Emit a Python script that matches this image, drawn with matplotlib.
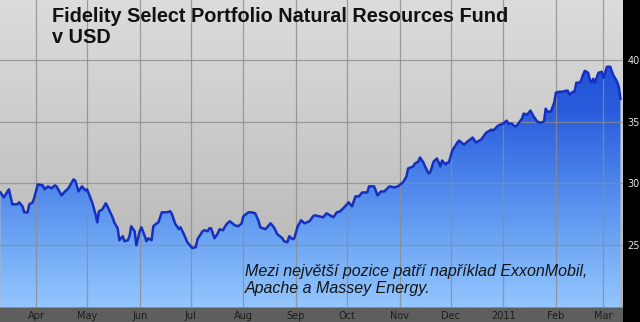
import numpy as np
import pandas as pd
import matplotlib
matplotlib.use("Agg")
import matplotlib.pyplot as plt
import matplotlib.dates as mdates
from matplotlib.colors import LinearSegmentedColormap
from matplotlib.patches import Rectangle

# price of the fund
DATES = [
    "2010-03-11", "2010-03-13", "2010-03-16", "2010-03-18", "2010-03-21", "2010-03-22",
    "2010-03-24", "2010-03-25", "2010-03-27", "2010-03-28", "2010-03-30", "2010-03-31",
    "2010-04-02", "2010-04-05", "2010-04-06", "2010-04-08", "2010-04-10", "2010-04-12",
    "2010-04-13", "2010-04-16", "2010-04-18", "2010-04-20", "2010-04-23", "2010-04-24",
    "2010-04-26", "2010-04-28", "2010-04-30", "2010-05-01", "2010-05-04", "2010-05-06",
    "2010-05-07", "2010-05-08", "2010-05-10", "2010-05-12", "2010-05-13", "2010-05-16",
    "2010-05-17", "2010-05-19", "2010-05-20", "2010-05-22", "2010-05-23", "2010-05-25",
    "2010-05-26", "2010-05-27", "2010-05-29", "2010-05-30", "2010-06-01", "2010-06-02",
    "2010-06-04", "2010-06-05", "2010-06-06", "2010-06-08", "2010-06-09", "2010-06-11",
    "2010-06-12", "2010-06-14", "2010-06-17", "2010-06-19", "2010-06-20", "2010-06-22",
    "2010-06-23", "2010-06-24", "2010-06-25", "2010-06-27", "2010-06-29", "2010-07-01",
    "2010-07-02", "2010-07-04", "2010-07-05", "2010-07-08", "2010-07-09", "2010-07-11",
    "2010-07-12", "2010-07-13", "2010-07-15", "2010-07-17", "2010-07-18", "2010-07-20",
    "2010-07-22", "2010-07-24", "2010-07-27", "2010-07-29", "2010-07-31", "2010-08-01",
    "2010-08-04", "2010-08-06", "2010-08-08", "2010-08-10", "2010-08-11", "2010-08-14",
    "2010-08-15", "2010-08-17", "2010-08-19", "2010-08-21", "2010-08-24", "2010-08-25",
    "2010-08-27", "2010-08-28", "2010-08-30", "2010-08-31", "2010-09-02", "2010-09-04",
    "2010-09-06", "2010-09-09", "2010-09-11", "2010-09-12", "2010-09-17", "2010-09-19",
    "2010-09-23", "2010-09-25", "2010-09-27", "2010-09-30", "2010-10-02", "2010-10-04",
    "2010-10-06", "2010-10-08", "2010-10-10", "2010-10-13", "2010-10-14", "2010-10-17",
    "2010-10-19", "2010-10-21", "2010-10-23", "2010-10-26", "2010-10-29", "2010-10-31",
    "2010-11-03", "2010-11-05", "2010-11-06", "2010-11-09", "2010-11-10", "2010-11-12",
    "2010-11-13", "2010-11-15", "2010-11-16", "2010-11-18", "2010-11-19", "2010-11-21",
    "2010-11-23", "2010-11-25", "2010-11-26", "2010-11-28", "2010-11-29", "2010-11-30",
    "2010-12-02", "2010-12-05", "2010-12-06", "2010-12-08", "2010-12-09", "2010-12-11",
    "2010-12-14", "2010-12-16", "2010-12-19", "2010-12-22", "2010-12-25", "2010-12-26",
    "2010-12-29", "2011-01-01", "2011-01-03", "2011-01-04", "2011-01-06", "2011-01-08",
    "2011-01-09", "2011-01-12", "2011-01-13", "2011-01-15", "2011-01-17", "2011-01-19",
    "2011-01-21", "2011-01-23", "2011-01-25", "2011-01-26", "2011-01-27", "2011-01-29",
    "2011-01-31", "2011-02-01", "2011-02-03", "2011-02-05", "2011-02-07", "2011-02-08",
    "2011-02-09", "2011-02-11", "2011-02-12", "2011-02-13", "2011-02-15", "2011-02-16",
    "2011-02-17", "2011-02-18", "2011-02-20", "2011-02-21", "2011-02-22", "2011-02-23",
    "2011-02-24", "2011-02-25", "2011-02-26", "2011-02-28", "2011-03-01", "2011-03-02",
    "2011-03-03", "2011-03-05", "2011-03-06", "2011-03-07", "2011-03-09", "2011-03-10",
    "2011-03-11",
]
PRICES = [
    29.27, 28.87, 29.52, 28.31, 28.31, 28.47,
    28.15, 27.66, 27.66, 28.31, 28.47, 28.87,
    29.92, 29.84, 29.52, 29.76, 29.60, 29.84,
    29.76, 29.03, 29.35, 29.60, 30.32, 30.24,
    29.35, 29.76, 29.43, 29.52, 28.47, 27.50,
    26.85, 27.74, 27.90, 28.39, 28.15, 27.26,
    26.85, 26.37, 25.40, 25.73, 25.32, 25.40,
    25.73, 26.53, 26.13, 25.00, 26.13, 26.45,
    25.73, 25.32, 25.56, 25.40, 26.53, 26.77,
    26.85, 27.66, 27.66, 27.74, 27.50, 26.69,
    26.53, 26.29, 26.45, 25.89, 25.24, 24.92,
    24.76, 24.84, 25.48, 26.13, 26.21, 26.13,
    26.37, 26.37, 25.56, 25.97, 26.29, 26.21,
    26.69, 26.94, 26.61, 26.53, 26.77, 27.34,
    27.66, 27.66, 27.58, 26.94, 26.45, 26.29,
    26.45, 26.77, 26.45, 25.89, 25.56, 25.32,
    25.24, 25.73, 25.48, 25.56, 26.53, 27.02,
    26.77, 26.94, 27.34, 27.42, 27.26, 27.58,
    27.26, 27.66, 27.74, 28.15, 28.47, 28.15,
    28.95, 28.95, 29.27, 29.27, 29.76, 29.76,
    29.03, 29.35, 29.35, 29.76, 29.68, 29.76,
    30.08, 30.56, 31.21, 31.37, 31.61, 31.77,
    32.10, 31.69, 31.37, 30.81, 30.89, 31.77,
    32.02, 31.37, 31.85, 31.53, 31.69, 31.69,
    32.66, 33.31, 33.47, 33.23, 33.15, 33.39,
    33.71, 33.31, 33.55, 34.11, 34.35, 34.27,
    34.68, 34.84, 35.08, 34.84, 34.84, 34.60,
    34.68, 35.24, 35.65, 35.56, 35.89, 35.40,
    35.00, 34.92, 35.00, 36.05, 35.81, 35.81,
    36.53, 37.34, 37.42, 37.42, 37.50, 37.50,
    37.18, 37.42, 37.42, 38.15, 38.15, 38.39,
    38.79, 39.11, 38.95, 38.39, 38.15, 38.47,
    38.15, 38.55, 38.95, 39.03, 38.55, 38.95,
    39.44, 39.44, 39.03, 38.71, 38.23, 37.82,
    36.85,
]

MONTH_TICKS = ["2010-04-01", "2010-05-01", "2010-06-01", "2010-07-01", "2010-08-01",
               "2010-09-01", "2010-10-01", "2010-11-01", "2010-12-01", "2011-01-01",
               "2011-02-01", "2011-03-01"]
MONTH_LABELS = ["Apr", "May", "Jun", "Jul", "Aug", "Sep", "Oct", "Nov", "Dec",
                "2011", "Feb", "Mar"]
PRICE_TICKS = [25, 30, 35, 40]

TITLE = "Fidelity Select Portfolio Natural Resources Fund\nv USD"
NOTE = "Mezi největší pozice patří například ExxonMobil,\nApache a Massey Energy."


def main():
    dates = mdates.date2num(pd.to_datetime(DATES))
    prices = np.array(PRICES)
    ticks = mdates.date2num(pd.to_datetime(MONTH_TICKS))

    W, H = 640, 322
    fig = plt.figure(figsize=(W / 100, H / 100), dpi=100, facecolor="black")

    # grey strip under the plot for the month labels (behind the axes)
    fig.patches.append(Rectangle((0, 0), 623 / W, 15 / H, transform=fig.transFigure,
                                 facecolor="#5e5e5e", edgecolor="none", zorder=-2))
    fig.patches.append(Rectangle((0, 14 / H), 623 / W, 1.5 / H, transform=fig.transFigure,
                                 facecolor="#8a8a8a", edgecolor="none", zorder=-1))

    ax = fig.add_axes([0, 15 / H, 623 / W, 307 / H])
    x0 = mdates.date2num(pd.Timestamp("2010-03-10 18:00"))
    x1 = mdates.date2num(pd.Timestamp("2011-03-12 12:00"))
    y0, y1 = 20.0, 44.84
    ax.set_xlim(x0, x1)
    ax.set_ylim(y0, y1)

    # grey background gradient
    grey = LinearSegmentedColormap.from_list("grey", ["#b2b2b2", "#c8c8c8", "#dcdcdc"])
    grad = np.linspace(0, 1, 256).reshape(-1, 1)
    ax.imshow(grad, cmap=grey, origin="lower", aspect="auto",
              extent=[x0, x1, y0, y1], zorder=0)

    # blue gradient under the price line
    blue = LinearSegmentedColormap.from_list(
        "blue", ["#94c6ff", "#6ea6f4", "#4a82ea", "#2a5ddc", "#1f4fd6"])
    poly = ax.fill_between(dates, prices, y0, facecolor="none", edgecolor="none")
    im = ax.imshow(grad, cmap=blue, origin="lower", aspect="auto",
                   extent=[x0, x1, y0, 41], zorder=1)
    im.set_clip_path(poly.get_paths()[0], transform=ax.transData)
    ax.set_xlim(x0, x1)
    ax.set_ylim(y0, y1)

    ax.plot(dates, prices, color="#1530c0", linewidth=1.8, zorder=3,
            solid_joinstyle="round")

    ax.set_xticks(ticks)
    ax.set_xticklabels(MONTH_LABELS)
    ax.set_yticks(PRICE_TICKS)
    ax.yaxis.tick_right()
    ax.grid(True, color="#8c8c8c", linewidth=0.9, alpha=0.8, zorder=2)
    ax.set_axisbelow(False)
    ax.tick_params(axis="x", length=0, pad=3, labelsize=7, labelcolor="#1c1c1c")
    ax.tick_params(axis="y", length=0, pad=3, labelsize=7, labelcolor="#e6e6e6")
    for label in ax.get_xticklabels():
        label.set_zorder(5)
    for spine in ax.spines.values():
        spine.set_visible(False)

    fig.text(52 / W, 1 - 7 / H, TITLE, ha="left", va="top", fontsize=14.3,
             fontweight="bold", family="Liberation Sans", color="#111111",
             linespacing=1.15)
    fig.text(245 / W, 1 - 264 / H, NOTE, ha="left", va="top", fontsize=11.5,
             style="italic", family="Liberation Sans", color="#151515",
             linespacing=1.2)

    fig.savefig("out.png", dpi=100, facecolor="black")


if __name__ == "__main__":
    main()
